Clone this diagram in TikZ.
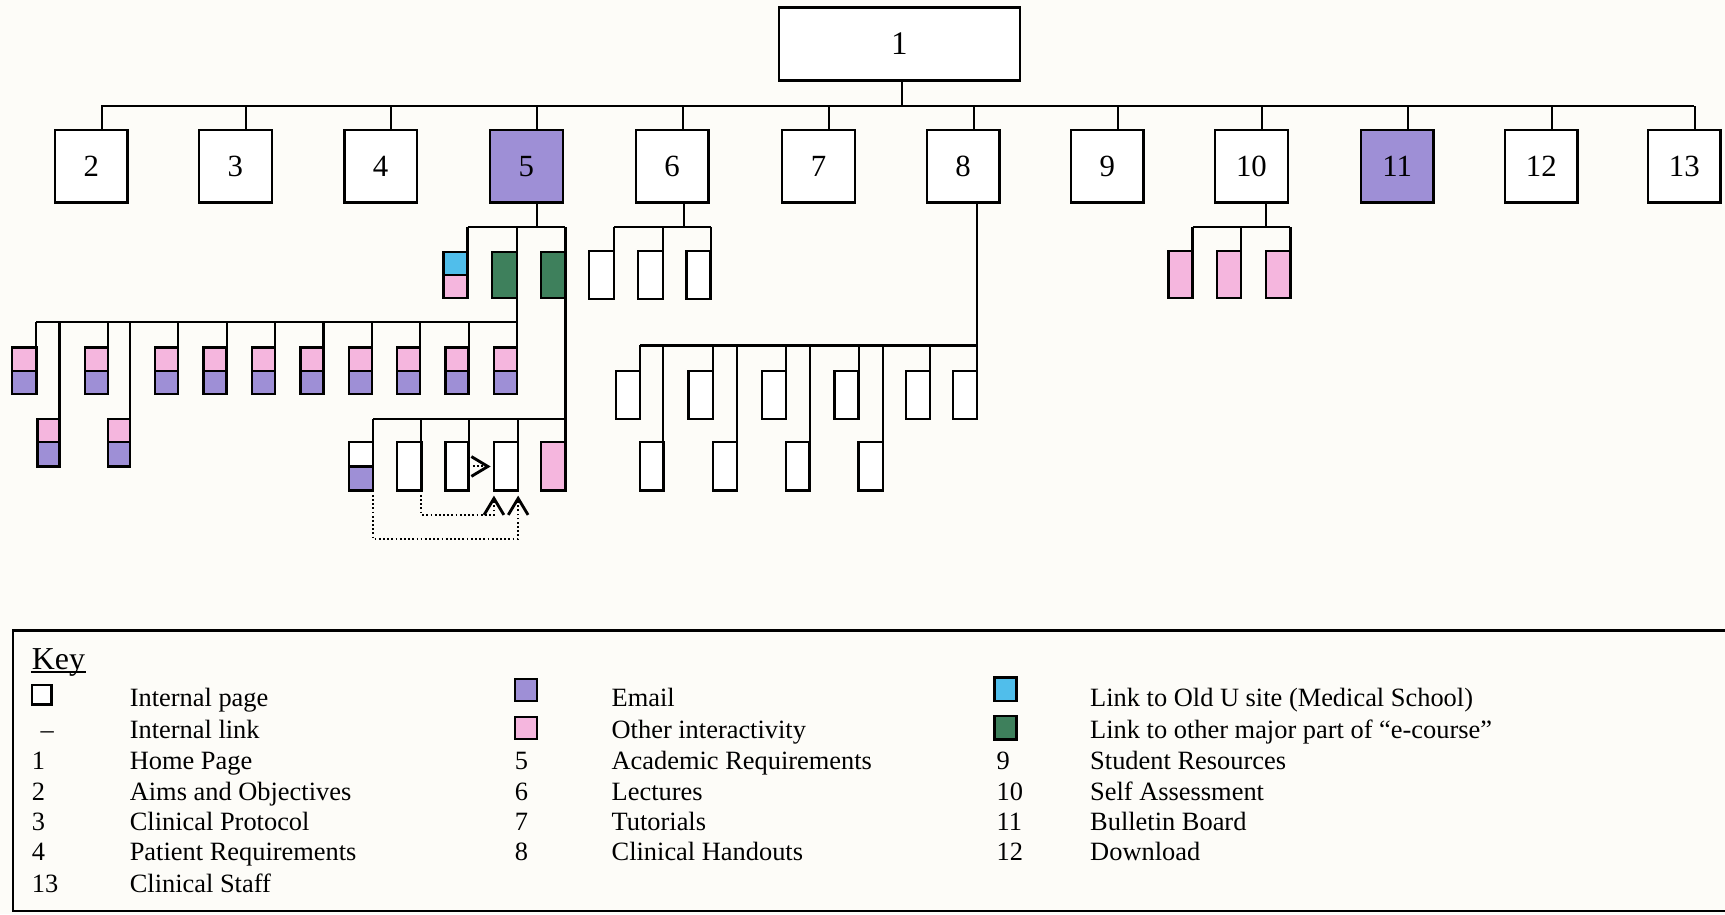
\documentclass[tikz,border=0pt]{standalone}
\usepackage{fontspec}
\setmainfont{Liberation Serif}
\usetikzlibrary{calc,arrows.meta}
\definecolor{em}{RGB}{158,143,214}
\definecolor{oi}{RGB}{245,182,222}
\definecolor{ou}{RGB}{80,190,235}
\definecolor{gr}{RGB}{62,128,92}
\definecolor{bg}{RGB}{253,252,248}
\newcommand\mybox[6]{\node[pg,fill=#6,minimum width={(#4)-(#2)},minimum height={(#5)-(#3)}] (#1) at ({((#2)+(#4))/2},{((#3)+(#5))/2}) {};}
\begin{document}
\begin{tikzpicture}[x=1pt,y=-1pt,line width=2pt,
  pg/.style={draw=black,line width=2.2pt,inner sep=0pt,outer sep=0pt},
  num/.style={font=\fontsize{28}{30}\selectfont},
  lg/.style={font=\fontsize{24}{28}\selectfont,anchor=base west,inner sep=0pt},
  dotln/.style={line width=1.8pt,dash pattern=on 1.6pt off 2.2pt},
  chev/.style={-{Straight Barb[length=15pt,width=18pt,line width=2.6pt 0]}}]
\fill[bg] (0,0) rectangle (1568,831);
\useasboundingbox (0,0) rectangle (1568,831);

% ---------- top level ----------
\node[pg,fill=white,minimum width=219pt,minimum height=66pt,font=\fontsize{30}{32}\selectfont] (n1) at (817.5,40) {1};
\draw ([xshift=2.5pt]n1.south) -- ++(0,23);
\draw (92,96) -- (1540,96);
\foreach \i/\cx/\f in {2/83/white,3/214/white,4/346/white,5/478.5/em,6/611/white,7/744/white,8/875.5/white,9/1006.5/white,10/1137.5/white,11/1270/em,12/1401/white,13/1531/white}{
  \node[pg,fill=\f,minimum width=66pt,minimum height=66pt,num] (n\i) at (\cx,151) {\i};
  \draw ([xshift=9.5pt]n\i.north) -- ++(0,-22);
}

% ---------- subtree of 5 ----------
\draw ([xshift=9.5pt]n5.south) -- ++(0,22);
\draw (425,206) -- (514,206);
\mybox{c5a}{403}{229}{425}{250}{ou}
\mybox{c5b}{403}{250}{425}{271}{oi}
\mybox{g1}{447}{229}{470}{271}{gr}
\mybox{g2}{492}{229}{514}{271}{gr}
\draw (c5a.north east) -- ++(0,-23);
\draw (g1.north east) -- ++(0,-23);
\draw (g2.north east) -- ++(0,-23);

% left row
\draw (33,293) -- (470,293);
\foreach \k/\a/\b in {1/11/33,2/77/98,3/141/162,4/185/206,5/229/250,6/273/294,7/317/338,8/361/382,9/405/426,10/449/470}{
  \mybox{lp\k}{\a}{316}{\b}{337}{oi}
  \mybox{lb\k}{\a}{337}{\b}{358}{em}
  \draw (lp\k.north east) -- ++(0,-23);
}
\draw (g1.south east) -- (lp10.north east);
\mybox{qp1}{34}{381}{54}{402}{oi}
\mybox{qb1}{34}{402}{54}{424}{em}
\mybox{qp2}{98}{381}{118}{402}{oi}
\mybox{qb2}{98}{402}{118}{424}{em}
\draw (qp1.north east) -- ++(0,-88);
\draw (qp2.north east) -- ++(0,-88);

% bottom group
\draw (339,381) -- (514,381);
\mybox{ba}{317}{402}{339}{424}{white}
\mybox{bab}{317}{424}{339}{446}{em}
\mybox{bb}{361}{402}{383}{446}{white}
\mybox{bc}{405}{402}{426}{446}{white}
\mybox{bd}{449}{402}{471}{446}{white}
\mybox{be}{492}{402}{514}{446}{oi}
\foreach \n in {ba,bb,bc,bd}{\draw (\n.north east) -- ++(0,-21);}
\draw (g2.south east) -- (be.north east);
\draw[dotln,chev,shorten >=3pt] (bc.east) -- (bd.west);
\draw[dotln,chev,shorten >=4.5pt] (bb.south east) -- ++(0,22) -| (bd.south west);
\draw[dotln,chev,shorten >=4.5pt] (bab.south east) -- ++(0,44) -| (bd.south east);

% ---------- subtree of 6 ----------
\draw ([xshift=11pt]n6.south) -- ++(0,22);
\draw (558,206) -- (646,206);
\foreach \k/\a/\b in {1/535.5/558,2/580/602.5,3/624/646}{
  \mybox{s6\k}{\a}{228}{\b}{272}{white}
  \draw (s6\k.north east) -- ++(0,-22);
}

% ---------- subtree of 8 ----------
\draw ([xshift=12.5pt]n8.south) -- ++(0,130);
\draw (582,314) -- (888,314);
\foreach \k/\a/\b in {1/560/582,2/626/648,3/692.5/714.5,4/758.5/780.5,5/823.5/845.5,6/866.5/888}{
  \mybox{u\k}{\a}{337}{\b}{381}{white}
  \draw (u\k.north east) -- ++(0,-23);
}
\foreach \k/\a/\b in {1/582/603,2/648/670,3/714.5/736,4/780.5/802.5}{
  \mybox{w\k}{\a}{402}{\b}{446}{white}
  \draw (w\k.north east) -- ++(0,-88);
}

% ---------- subtree of 10 ----------
\draw ([xshift=13pt]n10.south) -- ++(0,22);
\draw (1084,206) -- (1173,206);
\foreach \k/\a/\b in {1/1062/1084,2/1106/1128,3/1151/1173}{
  \mybox{t\k}{\a}{228}{\b}{271}{oi}
  \draw (t\k.north east) -- ++(0,-22);
}

% ---------- key ----------
\draw[line width=2.2pt] (1568,573) -| (12,828) -- (1568,828);
\node[lg,font=\fontsize{29}{30}\selectfont] (key) at (28,609) {Key};
\draw[line width=1.4pt] ([yshift=-2pt]key.base west) -- ([yshift=-2pt]key.base east);

\node[pg,fill=white,minimum size=18pt] (kip) at (38,631.5) {};
\node[lg] (kil) at (36,671.2) {–};
\node[pg,fill=em,minimum size=20pt] (kem) at (478,627) {};
\node[pg,fill=oi,minimum size=20pt] (koi) at (478,661.5) {};
\node[pg,fill=ou,minimum width=20pt,minimum height=21pt] (kou) at (914,626.5) {};
\node[pg,fill=gr,minimum width=20pt,minimum height=21pt] (kgr) at (914,661.5) {};

\node[lg] (t1a) at (117,641.8) {Internal page};
\node[lg] (t1b) at (555,641.8) {Email};
\node[lg] (t1c) at (990,641.8) {Link to Old U site (Medical School)};
\node[lg] (t2a) at (117,671.2) {Internal link};
\node[lg] (t2b) at (555,671.2) {Other interactivity};
\node[lg] (t2c) at (990,671.2) {Link to other major part of “e-course”};

\foreach \y/\na/\la/\nb/\lb/\nc/\lc in {
  699.4/1/Home Page/5/Academic Requirements/9/Student Resources,
  727.3/2/Aims and Objectives/6/Lectures/10/Self Assessment,
  755.2/3/Clinical Protocol/7/Tutorials/11/Bulletin Board,
  782.5/4/Patient Requirements/8/Clinical Handouts/12/Download}{
  \node[lg] (na\na) at (28,\y) {\na};
  \node[lg] (la\na) at (117,\y) {\la};
  \node[lg] (nb\nb) at (467,\y) {\nb};
  \node[lg] (lb\nb) at (555,\y) {\lb};
  \node[lg] (nc\nc) at (905,\y) {\nc};
  \node[lg] (lc\nc) at (990,\y) {\lc};
}
\node[lg] (na13) at (28,811.5) {13};
\node[lg] (la13) at (117,811.5) {Clinical Staff};
\end{tikzpicture}
\end{document}
